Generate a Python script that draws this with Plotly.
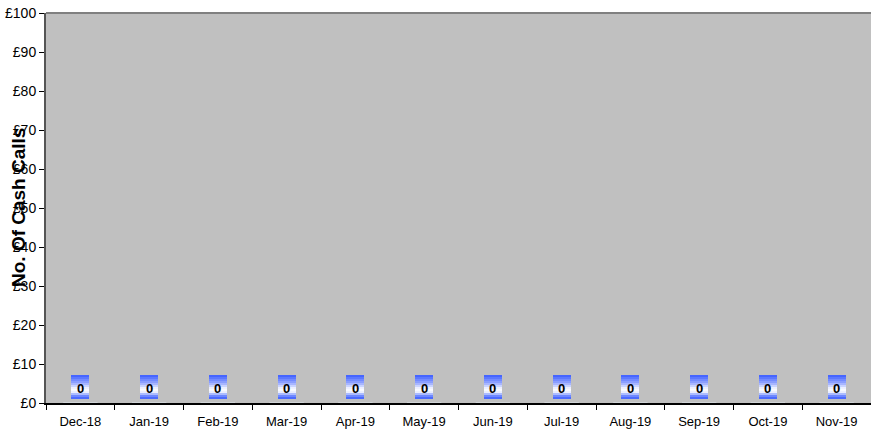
import plotly.graph_objects as go

months = ["Dec-18", "Jan-19", "Feb-19", "Mar-19", "Apr-19", "May-19",
          "Jun-19", "Jul-19", "Aug-19", "Sep-19", "Oct-19", "Nov-19"]
cash_calls = [0, 0, 0, 0, 0, 0, 0, 0, 0, 0, 0, 0]
y_ticks = [0, 10, 20, 30, 40, 50, 60, 70, 80, 90, 100]

FONT = "Liberation Sans, Arial, sans-serif"

fig = go.Figure()
fig.add_trace(go.Bar(x=months, y=cash_calls, marker_color="#3a5bff",
                     showlegend=False, hoverinfo="x+y"))

# gradient label boxes (blue -> white -> blue), built as thin bands
stops = [(0, (58, 91, 255)), (8, (150, 168, 255)), (14, (255, 255, 255)),
         (17, (235, 239, 255)), (21, (110, 136, 255)), (24, (58, 91, 255))]


def color_at(p):
    for (p0, c0), (p1, c1) in zip(stops[:-1], stops[1:]):
        if p0 <= p <= p1:
            t = (p - p0) / (p1 - p0) if p1 > p0 else 0
            return "rgb(%d,%d,%d)" % tuple(round(a + (b - a) * t) for a, b in zip(c0, c1))
    return "rgb(58,91,255)"


BOX_H = 24
CENTER = 16
band = 2
annotations = []
for m, v in zip(months, cash_calls):
    for top in range(0, BOX_H, band):
        mid = top + band / 2
        annotations.append(dict(
            x=m, y=v, xref="x", yref="y", text="", showarrow=False,
            width=18, height=band, borderpad=0, borderwidth=0,
            bgcolor=color_at(mid),
            yshift=CENTER + BOX_H / 2 - mid,
        ))
    annotations.append(dict(
        x=m, y=v, xref="x", yref="y", text="<b>%d</b>" % v, showarrow=False,
        font=dict(family=FONT, size=13, color="black"), yshift=CENTER - 1,
    ))

annotations.append(dict(
    x=0, y=0.5, xref="paper", yref="paper", text="<b>No. Of Cash Calls</b>",
    textangle=-90, showarrow=False, xanchor="center", yanchor="middle",
    xshift=-28, font=dict(family=FONT, size=19, color="black"),
))

fig.update_layout(
    width=871, height=433,
    margin=dict(l=46, r=0, t=13, b=30),
    paper_bgcolor="white", plot_bgcolor="#c0c0c0",
    font=dict(family=FONT, size=13, color="black"),
    annotations=annotations,
    shapes=[dict(type="line", xref="paper", yref="paper", x0=0, x1=1, y0=1, y1=1,
                 line=dict(color="#808080", width=2))],
    bargap=0.5,
)
fig.update_xaxes(type="category", range=[-0.5, 11.5], tickson="boundaries",
                 ticks="outside", ticklen=5, tickcolor="black", showgrid=False,
                 showline=True, linecolor="black", linewidth=1.5,
                 tickfont=dict(size=13), ticklabelstandoff=6)
fig.update_yaxes(range=[0, 100], tickvals=y_ticks,
                 ticktext=["£%d" % t for t in y_ticks],
                 ticks="outside", ticklen=5, tickcolor="black", showgrid=False,
                 showline=True, linecolor="#555555", linewidth=2,
                 zeroline=False, tickfont=dict(size=14))

fig.write_html("out.html", config={"displayModeBar": False},
               post_script="document.body.style.margin='0';document.body.style.overflow='hidden';")
